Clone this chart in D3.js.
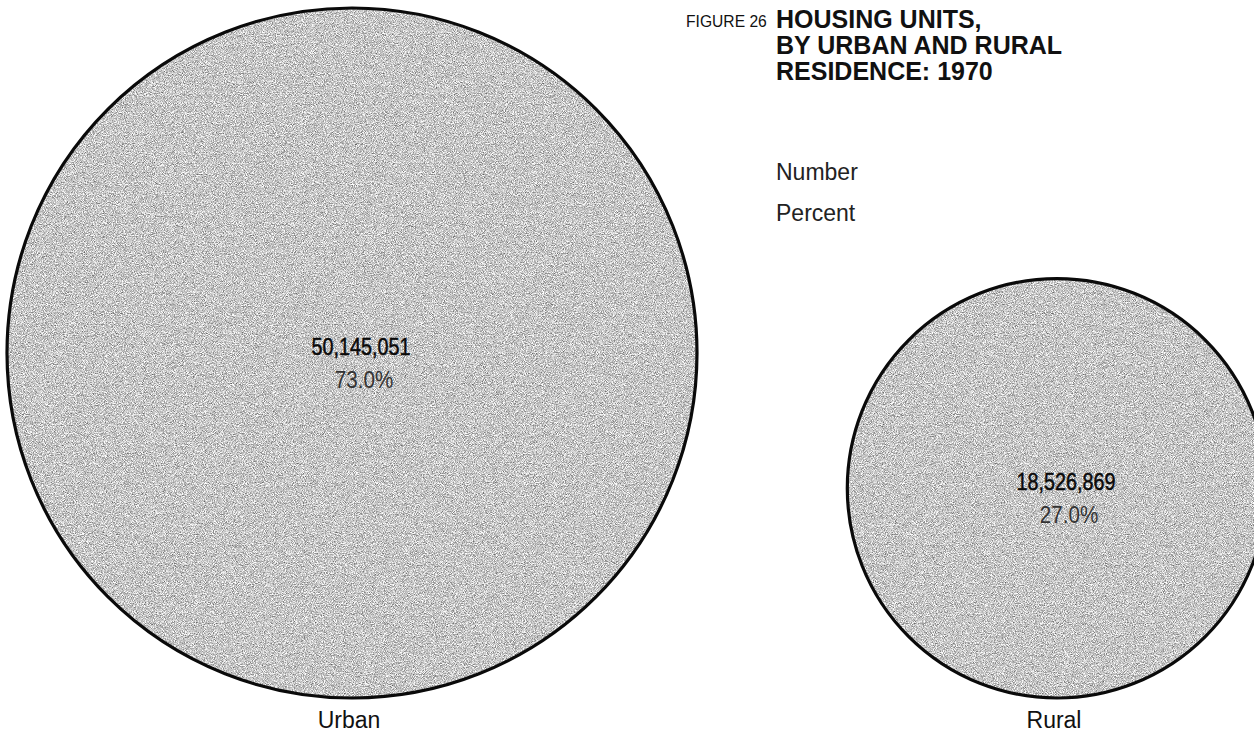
<!DOCTYPE html>
<html>
<head>
<meta charset="utf-8">
<script src="https://cdn.jsdelivr.net/npm/d3@7"></script>
<style>
  html, body { margin: 0; padding: 0; background: #fff; }
  svg { display: block; }
</style>
</head>
<body>
<svg id="chart" width="1254" height="748"></svg>
<script>
// Housing units by residence, 1970
const categories = ["Urban", "Rural"];
const units = [50145051, 18526869];
const percents = [73.0, 27.0];

const titleLines = ["HOUSING UNITS,", "BY URBAN AND RURAL", "RESIDENCE: 1970"];
const figureLabel = "FIGURE 26";
const keyLabels = ["Number", "Percent"];

const svg = d3.select("#chart");

// circle area proportional to number of units
const rScale = d3.scaleSqrt().domain([0, d3.max(units)]).range([0, 345]);
// horizontal placement of each circle
const xScale = d3.scalePoint().domain(categories).range([352, 1057]);
const bottomY = 698;

const data = categories.map((c, i) => ({
  name: c, value: units[i], pct: percents[i],
  r: rScale(units[i]), cx: xScale(c)
}));
data.forEach(d => { d.cy = bottomY - d.r; });

// fine-grained gray tone fill
const defs = svg.append("defs");
const f = defs.append("filter").attr("id", "grain")
  .attr("x", 0).attr("y", 0).attr("width", 1).attr("height", 1)
  .attr("color-interpolation-filters", "sRGB");
f.append("feTurbulence").attr("type", "fractalNoise")
  .attr("baseFrequency", 1.1).attr("numOctaves", 2).attr("seed", 7).attr("result", "noise");
f.append("feColorMatrix").attr("in", "noise").attr("type", "matrix")
  .attr("values", "1.05 0 0 0 0.25  1.05 0 0 0 0.25  1.05 0 0 0 0.25  0 0 0 0 1")
  .attr("result", "tone");
f.append("feComposite").attr("in", "tone").attr("in2", "SourceGraphic").attr("operator", "in");

data.forEach((d, i) => {
  defs.append("clipPath").attr("id", "clip" + i)
    .append("circle").attr("cx", d.cx).attr("cy", d.cy).attr("r", d.r);
});

const nodes = svg.append("g").selectAll("g.bubble").data(data).join("g").attr("class", "bubble");

nodes.append("circle")
  .attr("cx", d => d.cx).attr("cy", d => d.cy).attr("r", d => d.r)
  .attr("fill", "#c4c4c4");

nodes.append("rect")
  .attr("clip-path", (d, i) => `url(#clip${i})`)
  .attr("x", d => d.cx - d.r).attr("y", d => d.cy - d.r)
  .attr("width", d => 2 * d.r).attr("height", d => 2 * d.r)
  .attr("fill", "#000")
  .attr("filter", "url(#grain)");

nodes.append("circle")
  .attr("cx", d => d.cx).attr("cy", d => d.cy).attr("r", d => d.r)
  .attr("fill", "none").attr("stroke", "#0a0a0a").attr("stroke-width", 3.2);

const fmt = d3.format(",");
const narrow = 0.86;

nodes.append("text")
  .attr("transform", d => `translate(${d.cx + 9},${d.cy + 2}) scale(${narrow},1)`)
  .attr("text-anchor", "middle")
  .attr("font-family", "'Liberation Sans', Arial, sans-serif")
  .attr("font-size", 23)
  .attr("fill", "#0a0a0a").attr("stroke", "#0a0a0a").attr("stroke-width", 0.5)
  .text(d => fmt(d.value));

nodes.append("text")
  .attr("transform", d => `translate(${d.cx + 12},${d.cy + 35}) scale(${narrow},1)`)
  .attr("text-anchor", "middle")
  .attr("font-family", "'Liberation Sans', Arial, sans-serif")
  .attr("font-size", 24)
  .attr("fill", "#333")
  .text(d => d3.format(".1f")(d.pct) + "%");

nodes.append("text")
  .attr("x", d => d.cx - 3).attr("y", 728)
  .attr("text-anchor", "middle")
  .attr("font-family", "'Liberation Sans', Arial, sans-serif")
  .attr("font-size", 23)
  .attr("fill", "#111")
  .text(d => d.name);

// title block
svg.append("text")
  .attr("transform", "translate(686,27) scale(0.92,1)")
  .attr("font-family", "'Liberation Sans', Arial, sans-serif")
  .attr("font-size", 17)
  .attr("fill", "#111")
  .text(figureLabel);

svg.append("g").selectAll("text").data(titleLines).join("text")
  .attr("x", 776).attr("y", (d, i) => 28 + i * 26)
  .attr("font-family", "'Liberation Sans', Arial, sans-serif")
  .attr("font-weight", "bold")
  .attr("font-size", 25)
  .attr("fill", "#111")
  .text(d => d);

svg.append("g").selectAll("text").data(keyLabels).join("text")
  .attr("x", 776).attr("y", (d, i) => 180 + i * 41)
  .attr("font-family", "'Liberation Sans', Arial, sans-serif")
  .attr("font-size", 23)
  .attr("fill", "#222")
  .text(d => d);
</script>
</body>
</html>
